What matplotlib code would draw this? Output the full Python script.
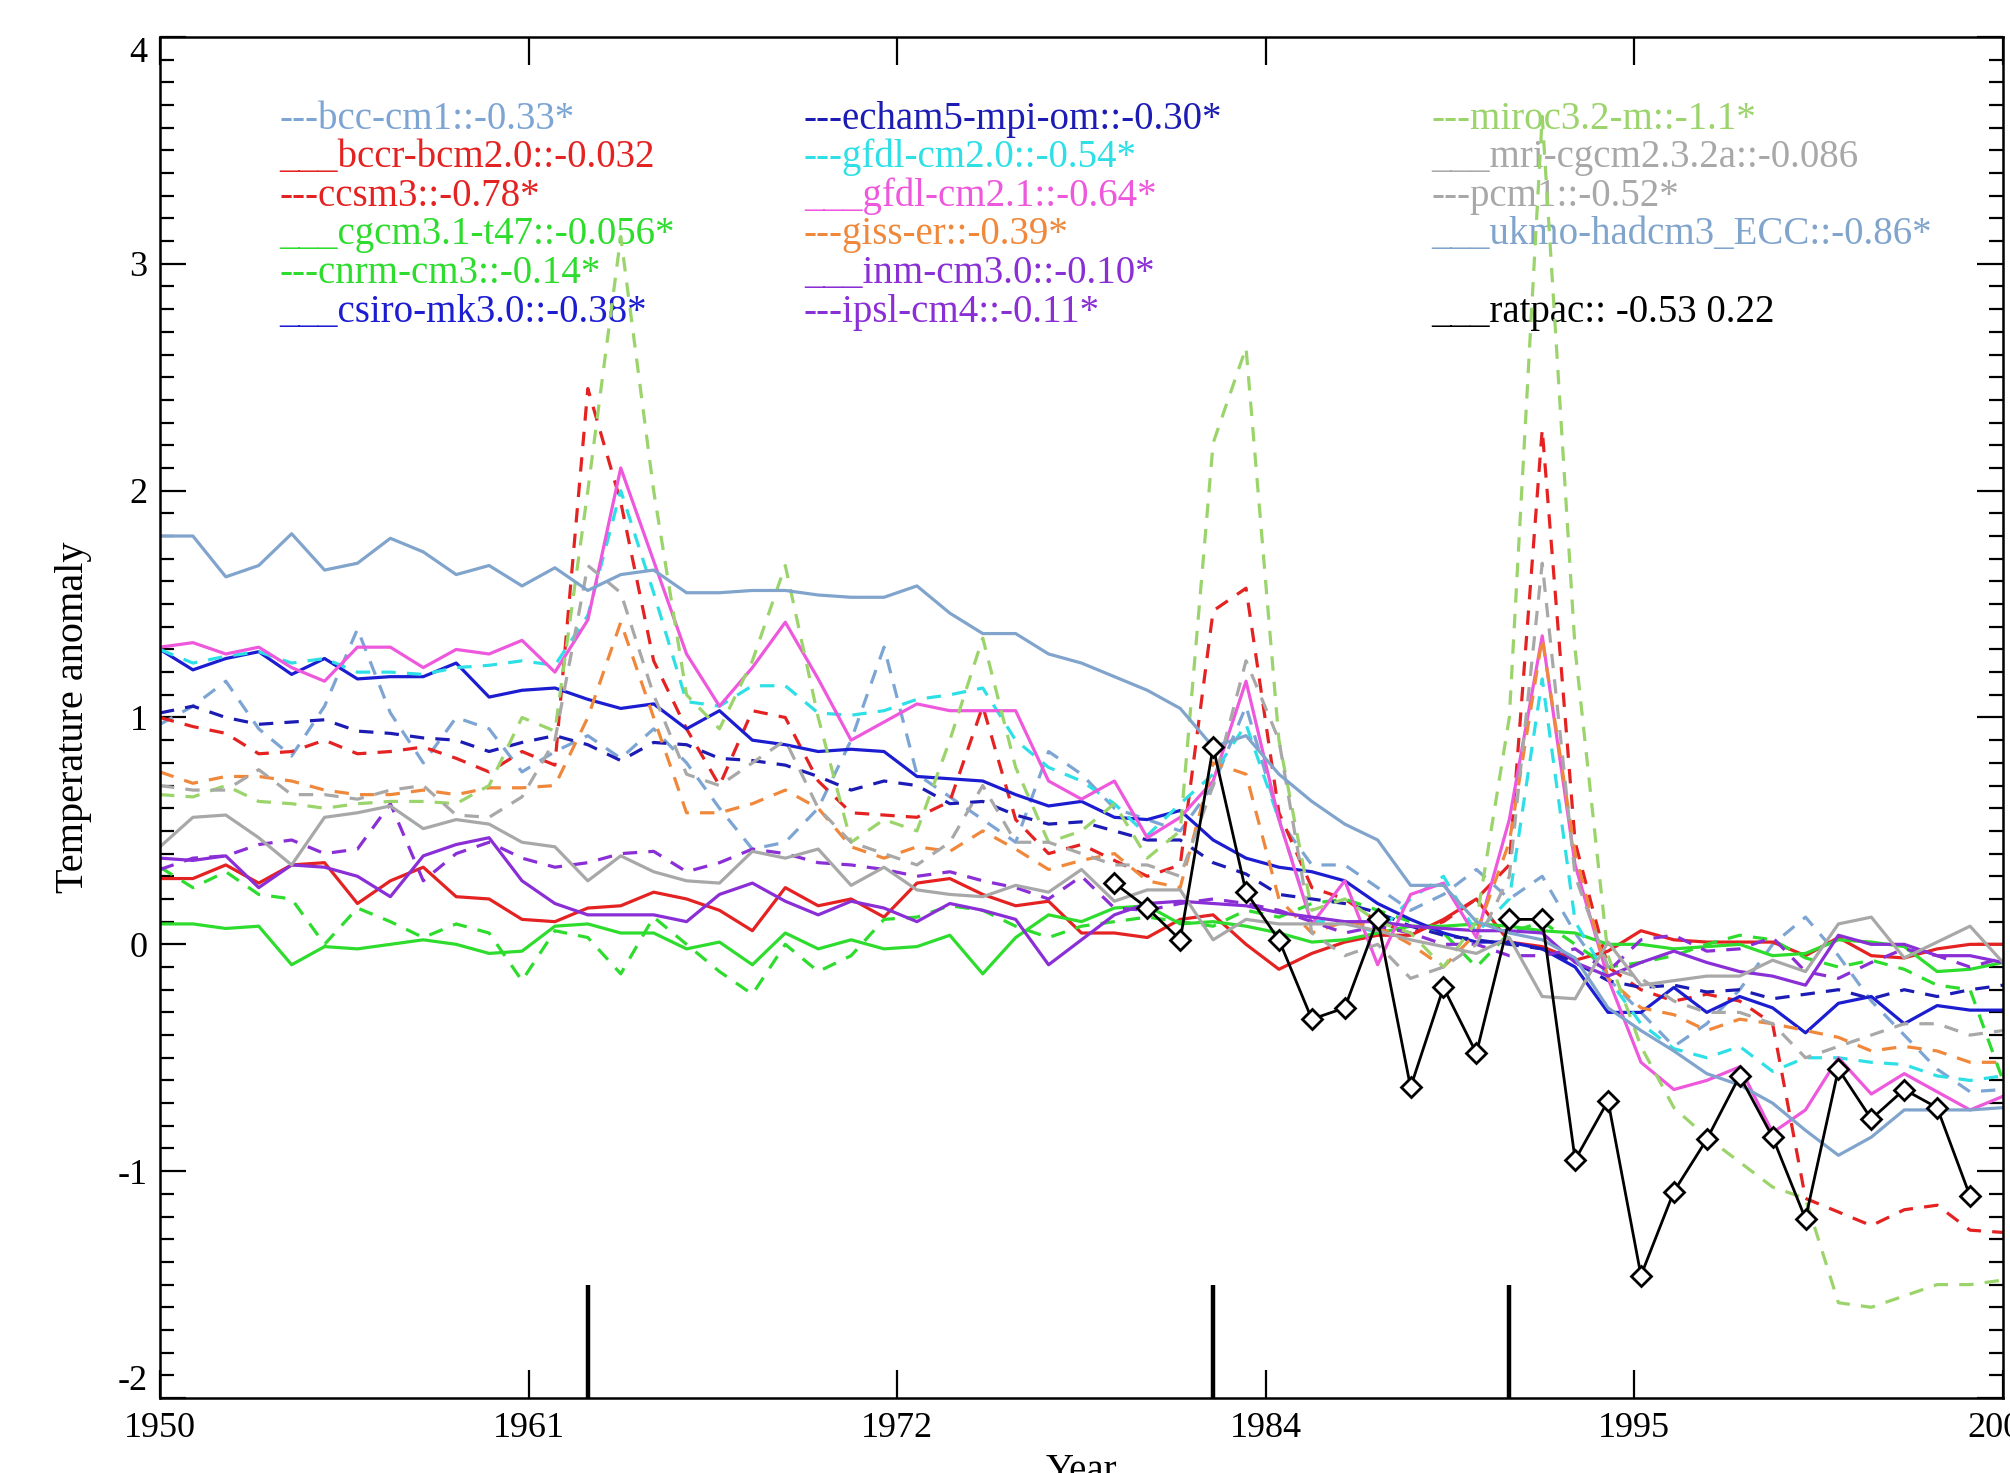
import numpy as np
import matplotlib.pyplot as plt
from matplotlib.ticker import MultipleLocator

plt.rcParams['font.family'] = ['Liberation Serif', 'DejaVu Serif']
plt.rcParams['axes.unicode_minus'] = False

# --- data ---
years = np.arange(1950, 2007)
ratpac_years = np.arange(1979, 2006)
volcano_years = [1963, 1982, 1991]

bcc_cm1 = [0.97, 1.05, 1.16, 0.95, 0.83, 1.05, 1.39, 1.02, 0.80, 1.00,
           0.95, 0.76, 0.85, 0.92, 0.82, 0.95, 0.80, 0.60, 0.42, 0.45,
           0.60, 0.90, 1.31, 0.75, 0.65, 0.55, 0.45, 0.85, 0.75, 0.60,
           0.55, 0.50, 0.70, 1.05, 0.55, 0.35, 0.35, 0.25, 0.15, 0.22,
           0.33, 0.20, 0.30, 0.05, -0.15, -0.30, -0.45, -0.35, -0.20, 0.00,
           0.12, -0.05, -0.25, -0.40, -0.55, -0.65, -0.64]
bccr = [0.29, 0.29, 0.35, 0.27, 0.35, 0.36, 0.18, 0.28, 0.34, 0.21,
        0.20, 0.11, 0.10, 0.16, 0.17, 0.23, 0.20, 0.15, 0.06, 0.25,
        0.17, 0.20, 0.12, 0.27, 0.29, 0.22, 0.17, 0.19, 0.05, 0.05,
        0.03, 0.11, 0.13, 0.00, -0.11, -0.04, 0.01, 0.04, 0.04, 0.11,
        0.20, 0.01, -0.01, -0.07, -0.03, 0.06, 0.02, 0.01, 0.01, 0.01,
        -0.05, 0.03, -0.05, -0.06, -0.02, 0.00, 0.00]
ccsm3 = [1.00, 0.96, 0.93, 0.84, 0.85, 0.90, 0.84, 0.85, 0.87, 0.82,
         0.76, 0.85, 0.79, 2.45, 1.95, 1.25, 0.95, 0.70, 1.03, 1.00,
         0.72, 0.58, 0.57, 0.56, 0.63, 1.05, 0.55, 0.40, 0.44, 0.37,
         0.30, 0.35, 1.47, 1.57, 0.58, 0.25, 0.20, 0.10, 0.05, 0.10,
         0.20, 0.35, 2.27, 0.45, -0.10, -0.20, -0.25, -0.22, -0.25, -0.35,
         -1.12, -1.18, -1.24, -1.17, -1.15, -1.26, -1.27]
cgcm31 = [0.09, 0.09, 0.07, 0.08, -0.09, -0.01, -0.02, 0.00, 0.02, 0.00,
          -0.04, -0.03, 0.08, 0.09, 0.05, 0.05, -0.02, 0.01, -0.09, 0.05,
          -0.02, 0.02, -0.02, -0.01, 0.04, -0.13, 0.03, 0.13, 0.10, 0.16,
          0.17, 0.09, 0.10, 0.08, 0.05, 0.01, 0.02, 0.05, 0.08, 0.08,
          0.09, 0.08, 0.06, 0.05, 0.00, 0.00, -0.02, -0.01, 0.00, -0.05,
          -0.04, 0.02, 0.01, -0.01, -0.12, -0.11, -0.08]
cnrm = [0.34, 0.25, 0.32, 0.22, 0.20, 0.00, 0.16, 0.10, 0.03, 0.09,
        0.05, -0.16, 0.06, 0.03, -0.13, 0.12, 0.00, -0.12, -0.22, 0.00,
        -0.12, -0.05, 0.11, 0.12, 0.17, 0.15, 0.08, 0.03, 0.08, 0.10,
        0.12, 0.10, 0.08, 0.15, 0.12, 0.18, 0.20, 0.15, 0.10, 0.05,
        -0.10, 0.05, 0.10, 0.00, -0.10, -0.08, -0.05, 0.00, 0.04, 0.02,
        -0.06, -0.10, -0.07, -0.11, -0.18, -0.20, -0.60]
csiro = [1.30, 1.21, 1.26, 1.29, 1.19, 1.26, 1.17, 1.18, 1.18, 1.24,
         1.09, 1.12, 1.13, 1.08, 1.04, 1.06, 0.95, 1.03, 0.90, 0.88,
         0.85, 0.86, 0.85, 0.74, 0.73, 0.72, 0.66, 0.61, 0.63, 0.56,
         0.55, 0.59, 0.46, 0.38, 0.34, 0.32, 0.28, 0.18, 0.11, 0.05,
         0.01, 0.01, -0.02, -0.10, -0.30, -0.30, -0.19, -0.30, -0.23, -0.28,
         -0.39, -0.26, -0.23, -0.35, -0.27, -0.29, -0.29]
echam5 = [1.02, 1.05, 1.00, 0.97, 0.98, 0.99, 0.94, 0.93, 0.91, 0.90,
          0.85, 0.89, 0.92, 0.88, 0.81, 0.89, 0.88, 0.82, 0.81, 0.79,
          0.74, 0.68, 0.72, 0.70, 0.62, 0.63, 0.57, 0.53, 0.54, 0.50,
          0.46, 0.46, 0.36, 0.31, 0.22, 0.20, 0.18, 0.14, 0.08, 0.04,
          0.02, 0.00, -0.02, -0.08, -0.16, -0.19, -0.18, -0.21, -0.20, -0.24,
          -0.22, -0.20, -0.24, -0.20, -0.23, -0.20, -0.18]
gfdl20 = [1.30, 1.24, 1.27, 1.29, 1.24, 1.26, 1.20, 1.20, 1.19, 1.22,
          1.23, 1.25, 1.23, 1.45, 2.00, 1.55, 1.07, 1.05, 1.14, 1.14,
          1.02, 1.01, 1.03, 1.08, 1.10, 1.13, 0.90, 0.78, 0.72, 0.62,
          0.48, 0.62, 0.75, 0.97, 0.55, 0.10, 0.10, 0.05, 0.20, 0.30,
          0.05, 0.20, 1.17, 0.10, -0.15, -0.35, -0.46, -0.50, -0.45, -0.56,
          -0.50, -0.50, -0.52, -0.53, -0.58, -0.60, -0.58]
gfdl21 = [1.31, 1.33, 1.28, 1.31, 1.22, 1.16, 1.31, 1.31, 1.22, 1.30,
          1.28, 1.34, 1.20, 1.43, 2.10, 1.69, 1.28, 1.05, 1.22, 1.42,
          1.17, 0.90, 0.98, 1.06, 1.03, 1.03, 1.03, 0.72, 0.64, 0.72,
          0.47, 0.56, 0.72, 1.16, 0.55, 0.09, 0.28, -0.09, 0.22, 0.27,
          0.03, 0.55, 1.36, 0.35, -0.15, -0.52, -0.64, -0.60, -0.54, -0.83,
          -0.73, -0.50, -0.66, -0.57, -0.65, -0.73, -0.67]
giss = [0.76, 0.71, 0.74, 0.74, 0.72, 0.68, 0.66, 0.66, 0.68, 0.66,
        0.69, 0.69, 0.70, 1.00, 1.42, 1.00, 0.58, 0.58, 0.62, 0.68,
        0.60, 0.43, 0.38, 0.43, 0.41, 0.50, 0.42, 0.33, 0.37, 0.40,
        0.28, 0.25, 0.80, 0.75, 0.20, 0.05, 0.10, 0.08, 0.00, -0.10,
        0.05, 0.45, 1.35, 0.40, -0.15, -0.28, -0.31, -0.38, -0.33, -0.35,
        -0.38, -0.41, -0.47, -0.45, -0.47, -0.52, -0.52]
inm = [0.38, 0.37, 0.39, 0.25, 0.35, 0.34, 0.30, 0.21, 0.39, 0.44,
       0.47, 0.28, 0.18, 0.13, 0.13, 0.13, 0.10, 0.22, 0.27, 0.19,
       0.13, 0.19, 0.16, 0.10, 0.18, 0.15, 0.11, -0.09, 0.02, 0.13,
       0.18, 0.19, 0.18, 0.17, 0.14, 0.12, 0.10, 0.10, 0.08, 0.07,
       0.06, 0.06, 0.05, -0.08, -0.14, -0.08, -0.03, -0.08, -0.12, -0.14,
       -0.18, 0.04, 0.00, 0.00, -0.05, -0.05, -0.08]
ipsl = [0.33, 0.38, 0.39, 0.44, 0.46, 0.40, 0.42, 0.62, 0.28, 0.40,
        0.45, 0.38, 0.34, 0.36, 0.40, 0.41, 0.32, 0.36, 0.42, 0.40,
        0.36, 0.35, 0.33, 0.30, 0.32, 0.28, 0.25, 0.20, 0.30, 0.16,
        0.15, 0.18, 0.20, 0.18, 0.15, 0.10, 0.05, 0.08, 0.05, 0.00,
        0.00, -0.05, -0.05, -0.02, -0.12, 0.02, 0.04, -0.03, -0.02, 0.03,
        -0.12, -0.15, -0.08, -0.02, -0.05, -0.10, -0.06]
miroc = [0.66, 0.65, 0.70, 0.63, 0.62, 0.60, 0.62, 0.63, 0.63, 0.62,
         0.70, 1.00, 0.94, 2.00, 3.12, 2.00, 1.10, 0.95, 1.25, 1.67,
         1.00, 0.45, 0.55, 0.50, 0.90, 1.35, 0.78, 0.45, 0.50, 0.62,
         0.38, 0.50, 2.21, 2.63, 0.90, 0.15, 0.20, 0.10, 0.05, -0.10,
         0.10, 1.00, 3.65, 1.30, -0.05, -0.45, -0.72, -0.85, -0.96, -1.07,
         -1.12, -1.58, -1.60, -1.55, -1.50, -1.50, -1.48]
mri = [0.43, 0.56, 0.57, 0.47, 0.35, 0.56, 0.58, 0.61, 0.51, 0.55,
       0.53, 0.45, 0.43, 0.28, 0.39, 0.32, 0.28, 0.27, 0.41, 0.38,
       0.42, 0.26, 0.34, 0.24, 0.22, 0.21, 0.26, 0.23, 0.33, 0.19,
       0.24, 0.24, 0.02, 0.11, 0.09, 0.09, 0.09, 0.06, 0.02, -0.01,
       -0.04, 0.03, -0.23, -0.24, 0.01, -0.18, -0.16, -0.14, -0.14, -0.07,
       -0.12, 0.09, 0.12, -0.06, 0.01, 0.08, -0.08]
pcm1 = [0.70, 0.68, 0.68, 0.77, 0.66, 0.66, 0.64, 0.68, 0.70, 0.57,
        0.56, 0.65, 0.90, 1.67, 1.55, 1.10, 0.75, 0.70, 0.80, 0.90,
        0.60, 0.45, 0.40, 0.35, 0.45, 0.70, 0.45, 0.45, 0.40, 0.35,
        0.35, 0.30, 0.70, 1.25, 0.90, 0.05, -0.05, 0.00, -0.15, -0.10,
        0.00, 0.30, 1.68, 0.30, -0.10, -0.15, -0.25, -0.30, -0.30, -0.35,
        -0.50, -0.45, -0.40, -0.35, -0.35, -0.40, -0.38]
ukmo = [1.80, 1.80, 1.62, 1.67, 1.81, 1.65, 1.68, 1.79, 1.73, 1.63,
        1.67, 1.58, 1.66, 1.56, 1.63, 1.65, 1.55, 1.55, 1.56, 1.56,
        1.54, 1.53, 1.53, 1.58, 1.46, 1.37, 1.37, 1.28, 1.24, 1.18,
        1.12, 1.04, 0.87, 0.92, 0.75, 0.63, 0.53, 0.46, 0.26, 0.26,
        0.10, 0.05, 0.02, -0.06, -0.28, -0.38, -0.47, -0.57, -0.62, -0.70,
        -0.82, -0.93, -0.85, -0.73, -0.73, -0.73, -0.72]
ratpac = [0.27, 0.16, 0.02, 0.87, 0.23, 0.02, -0.33, -0.28, 0.11, -0.63,
          -0.19, -0.48, 0.11, 0.11, -0.95, -0.69, -1.46, -1.09, -0.86, -0.58,
          -0.85, -1.21, -0.55, -0.77, -0.64, -0.72, -1.11]

# legend text, column, row
labels = [
    ("---bcc-cm1::-0.33*", 0, 0), ("___bccr-bcm2.0::-0.032", 0, 1),
    ("---ccsm3::-0.78*", 0, 2), ("___cgcm3.1-t47::-0.056*", 0, 3),
    ("---cnrm-cm3::-0.14*", 0, 4), ("___csiro-mk3.0::-0.38*", 0, 5),
    ("---echam5-mpi-om::-0.30*", 1, 0), ("---gfdl-cm2.0::-0.54*", 1, 1),
    ("___gfdl-cm2.1::-0.64*", 1, 2), ("---giss-er::-0.39*", 1, 3),
    ("___inm-cm3.0::-0.10*", 1, 4), ("---ipsl-cm4::-0.11*", 1, 5),
    ("---miroc3.2-m::-1.1*", 2, 0), ("___mri-cgcm2.3.2a::-0.086", 2, 1),
    ("---pcm1::-0.52*", 2, 2), ("___ukmo-hadcm3_ECC::-0.86*", 2, 3),
]

# --- style per model: values, colour, dashed ---
models = [
    (bcc_cm1, "#7da5d4", True),
    (bccr, "#e42222", False),
    (ccsm3, "#e42222", True),
    (cgcm31, "#2ddc2d", False),
    (cnrm, "#2ddc2d", True),
    (csiro, "#1c1cd0", False),
    (echam5, "#1c1cb4", True),
    (gfdl20, "#2ee0e6", True),
    (gfdl21, "#ee58dc", False),
    (giss, "#f0883c", True),
    (inm, "#8a2ed6", False),
    (ipsl, "#8a2ed6", True),
    (miroc, "#9ad46a", True),
    (mri, "#a8a8a8", False),
    (pcm1, "#a8a8a8", True),
    (ukmo, "#80a4cc", False),
]

fig = plt.figure(figsize=(20.1, 14.73), dpi=100)
ax = fig.add_axes([0.0796, 0.0509, 0.9169, 0.924])

for vals, col, dashed in models:
    ls = (0, (4.5, 3.5)) if dashed else "-"
    ax.plot(years, vals, color=col, lw=2.3, ls=ls, zorder=2)

ax.plot(ratpac_years, ratpac, color="k", lw=2.0, marker="D", ms=10,
        mfc="white", mec="k", mew=2.0, zorder=5)

ax.vlines(volcano_years, -2, -1.5, color="k", lw=3.2, zorder=6)

# --- legend as coloured text ---
col_x = [0.0646, 0.3494, 0.690]
row0, drow = 0.9324, 0.02829
for (txt, c, r), (vals, col, dashed) in zip(labels, models):
    ax.text(col_x[c], row0 - r * drow, txt, color=col, fontsize=28,
            transform=ax.transAxes, va="baseline", ha="left", zorder=1)
ax.text(col_x[2], row0 - 5 * drow, "___ratpac:: -0.53 0.22", color="k",
        fontsize=28, transform=ax.transAxes, va="baseline", ha="left", zorder=1)

# --- axes ---
ax.set_xlim(1950, 2006)
ax.set_ylim(-2, 4)
xt = np.linspace(1950, 2006, 6)
ax.set_xticks(xt)
ax.set_xticklabels([f"{round(v):d}" for v in xt])
ax.set_yticks(range(-2, 5))
ax.yaxis.set_minor_locator(MultipleLocator(0.1))

ax.tick_params(axis="both", which="both", direction="in", top=True, right=True,
               labelsize=26, width=1.6)
ax.tick_params(axis="y", which="major", length=19, pad=9)
ax.tick_params(axis="y", which="minor", length=10)
ax.tick_params(axis="x", which="major", length=20, pad=10)
ax.tick_params(axis="x", which="minor", bottom=False, top=False)
for s in ax.spines.values():
    s.set_linewidth(1.8)

# end labels sit inside the axis range, as in the original
ylabs = ax.get_yticklabels()
ylabs[0].set_va("bottom")
ylabs[-1].set_va("top")

ax.set_xlabel("Year", fontsize=28, labelpad=6)
ax.set_ylabel("Temperature anomaly", fontsize=29, labelpad=18)

fig.savefig("out.png", dpi=100)
